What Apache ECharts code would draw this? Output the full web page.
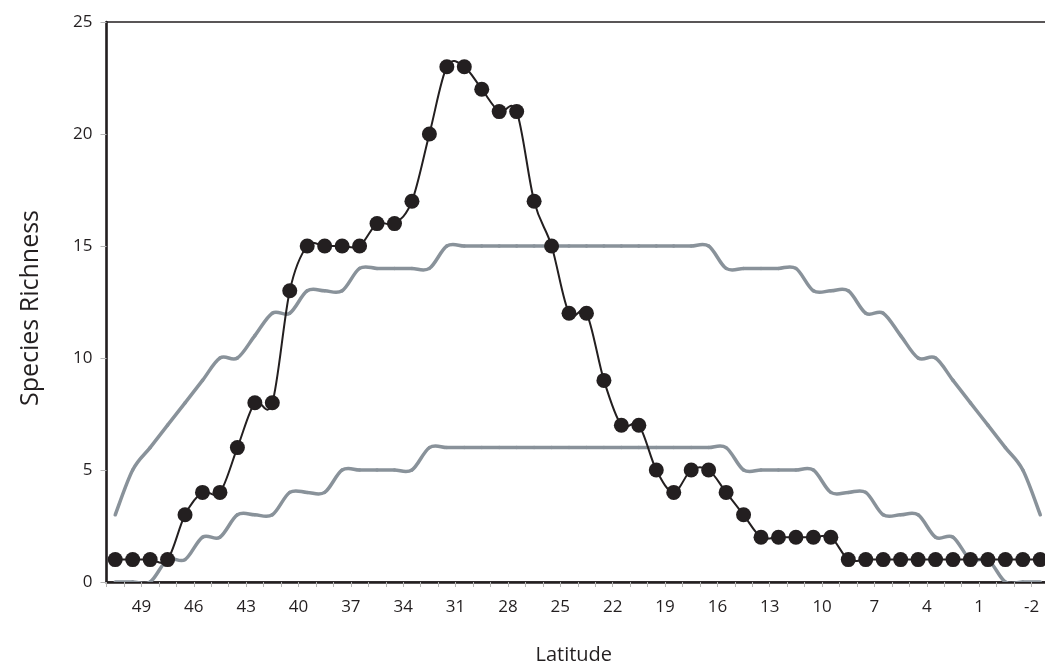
<!DOCTYPE html>
<html>
<head>
<meta charset="utf-8">
<script src="https://cdn.jsdelivr.net/npm/echarts@6/dist/echarts.min.js"></script>
<style>
  html, body { margin: 0; padding: 0; background: #fff; overflow: hidden; }
  /* the plot runs a few px past the right edge of the window, like the original */
  #chart { width: 1052px; height: 672px; }
</style>
</head>
<body>
<div id="chart"></div>
<script>
// latitude of each sample (half-degree centres, north to south)
const latitudes = [50.5, 49.5, 48.5, 47.5, 46.5, 45.5, 44.5, 43.5, 42.5, 41.5,
  40.5, 39.5, 38.5, 37.5, 36.5, 35.5, 34.5, 33.5, 32.5, 31.5,
  30.5, 29.5, 28.5, 27.5, 26.5, 25.5, 24.5, 23.5, 22.5, 21.5,
  20.5, 19.5, 18.5, 17.5, 16.5, 15.5, 14.5, 13.5, 12.5, 11.5,
  10.5, 9.5, 8.5, 7.5, 6.5, 5.5, 4.5, 3.5, 2.5, 1.5,
  0.5, -0.5, -1.5, -2.5];

// observed richness (black dots)
const observed = [1, 1, 1, 1, 3, 4, 4, 6, 8, 8,
  13, 15, 15, 15, 15, 16, 16, 17, 20, 23,
  23, 22, 21, 21, 17, 15, 12, 12, 9, 7,
  7, 5, 4, 5, 5, 4, 3, 2, 2, 2,
  2, 2, 1, 1, 1, 1, 1, 1, 1, 1,
  1, 1, 1, 1];

// null model upper / lower limits (grey lines)
const upperLimit = [3, 5, 6, 7, 8, 9, 10, 10, 11, 12,
  12, 13, 13, 13, 14, 14, 14, 14, 14, 15,
  15, 15, 15, 15, 15, 15, 15, 15, 15, 15,
  15, 15, 15, 15, 15, 14, 14, 14, 14, 14,
  13, 13, 13, 12, 12, 11, 10, 10, 9, 8,
  7, 6, 5, 3];

const lowerLimit = [0, 0, 0, 1, 1, 2, 2, 3, 3, 3,
  4, 4, 4, 5, 5, 5, 5, 5, 6, 6,
  6, 6, 6, 6, 6, 6, 6, 6, 6, 6,
  6, 6, 6, 6, 6, 6, 5, 5, 5, 5,
  5, 4, 4, 4, 3, 3, 3, 2, 2, 1,
  1, 0, 0, 0];

const pair = vals => vals.map((v, i) => [latitudes[i], v]);

const ink = '#231f20';
const grey = '#89929a';
const font = '"Open Sans", "DejaVu Sans", sans-serif';

// spreadsheet-style smoothed line (catmull-rom through the points, overshoot kept)
// echarts' own smooth clamps control points so the little wiggles get lost
function splineSeries(vals, color, width, z) {
  const n = vals.length;
  return {
    type: 'custom',
    coordinateSystem: 'cartesian2d',
    data: pair(vals),
    encode: { x: 0, y: 1 },
    clip: true,
    silent: true,
    z: z,
    renderItem: (params, api) => {
      const i = params.dataIndex;
      if (i >= n - 1) return null;
      const p = j => {
        const k = Math.max(0, Math.min(n - 1, j));
        return api.coord([latitudes[k], vals[k]]);
      };
      const p0 = p(i - 1), p1 = p(i), p2 = p(i + 1), p3 = p(i + 2);
      return {
        type: 'bezierCurve',
        shape: {
          x1: p1[0], y1: p1[1], x2: p2[0], y2: p2[1],
          cpx1: p1[0] + (p2[0] - p0[0]) / 6, cpy1: p1[1] + (p2[1] - p0[1]) / 6,
          cpx2: p2[0] - (p3[0] - p1[0]) / 6, cpy2: p2[1] - (p3[1] - p1[1]) / 6
        },
        style: { stroke: color, lineWidth: width, fill: 'none', lineCap: 'round' }
      };
    }
  };
}

const chart = echarts.init(document.getElementById('chart'));
chart.setOption({
  animation: false,
  backgroundColor: '#fff',
  grid: {
    left: 106.5, top: 22, bottom: 90, right: 0,
    show: true, borderColor: ink, borderWidth: 1.5
  },
  xAxis: {
    type: 'value',
    inverse: true,
    min: -3,
    max: 51,
    interval: 1,
    name: 'Latitude',
    nameLocation: 'middle',
    nameGap: 63,
    nameTextStyle: { fontFamily: font, fontSize: 20, color: ink, padding: [0, 8, 0, 0] },
    axisLine: { lineStyle: { color: ink, width: 2.5 } },
    axisTick: { length: 5, lineStyle: { color: '#b5b5b5', width: 1 } },
    splitLine: { show: false },
    axisLabel: {
      margin: 17,
      fontFamily: font, fontSize: 17, color: ink,
      showMinLabel: true, showMaxLabel: true,
      formatter: v => (((v % 3) + 3) % 3 === 1 && v < 51 && v > -3) ? String(v) : ''
    }
  },
  yAxis: {
    type: 'value',
    min: 0,
    max: 25,
    interval: 5,
    name: 'Species Richness',
    nameLocation: 'middle',
    nameGap: 63,
    nameTextStyle: { fontFamily: font, fontSize: 25, color: ink, padding: [0, 12, 0, 0] },
    axisLine: { show: true, onZero: false, lineStyle: { color: ink, width: 2.5 } },
    axisTick: { show: true, length: 6, lineStyle: { color: '#b5b5b5', width: 1 } },
    splitLine: { show: false },
    axisLabel: { margin: 14, fontFamily: font, fontSize: 17, color: ink }
  },
  series: [
    splineSeries(upperLimit, grey, 3.5, 2),
    splineSeries(lowerLimit, grey, 3.5, 2),
    splineSeries(observed, ink, 2, 3),
    {
      type: 'scatter', data: pair(observed),
      symbol: 'circle', symbolSize: 15,
      itemStyle: { color: ink, borderWidth: 0, opacity: 1 }, z: 4
    }
  ]
});
</script>
</body>
</html>
